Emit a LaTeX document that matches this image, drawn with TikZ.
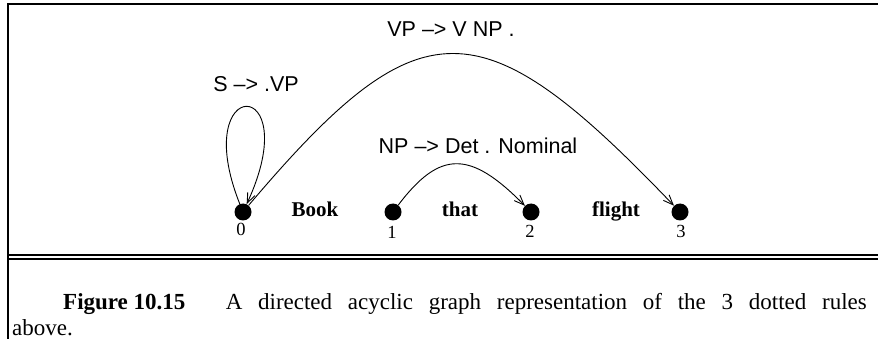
\documentclass[tikz,border=0pt]{standalone}
\usepackage{fontspec}
\setmainfont{Liberation Serif}
\newfontfamily\helv{Liberation Sans}
\usetikzlibrary{arrows.meta}
\begin{document}
\begin{tikzpicture}[x=1pt,y=-1pt,
  dot/.style={circle,fill=black,inner sep=0pt,minimum size=17pt},
  rulelabel/.style={font=\helv\fontsize{21.5}{25}\selectfont,anchor=base,inner sep=0pt},
  word/.style={font=\bfseries\fontsize{21}{25}\selectfont,anchor=base,inner sep=0pt},
  num/.style={font=\fontsize{18.5}{22}\selectfont,anchor=base,inner sep=0pt},
  captext/.style={font=\fontsize{23}{27}\selectfont,inner sep=0pt},
  edge/.style={line width=0.9pt,-{Straight Barb[length=10pt,width=8pt,line width=0.9pt]}},
  framerule/.style={line width=2pt}]
\useasboundingbox (0,0) rectangle (878,339);
% frame
\coordinate (fbl) at (8,339);
\coordinate (ftl) at (8,4);
\coordinate (ftr) at (878,4);
\draw[framerule] (fbl) -- (ftl) -- (ftr);
\coordinate (d1l) at (8,255);
\coordinate (d1r) at (878,255);
\coordinate (d2l) at (8,259);
\coordinate (d2r) at (878,259);
\draw[line width=1.3pt] (d1l) -- (d1r);
\draw[line width=1.3pt] (d2l) -- (d2r);
% nodes
\node[dot] (n0) at (243,212) {};
\node[dot] (n1) at (393,212) {};
\node[dot] (n2) at (531,212) {};
\node[dot] (n3) at (680,212) {};
\node[num] (l0) at (241,236) {0};
\node[num] (l1) at (392,238) {1};
\node[num] (l2) at (530,237) {2};
\node[num] (l3) at (681,237) {3};
\node[word] (wbook) at (315,217) {Book};
\node[word] (wthat) at (460,217) {that};
\node[word] (wflight) at (616,217) {flight};
% rule labels
\node[rulelabel] (rvp) at (451,37) {VP –> V NP .};
\node[rulelabel] (rs) at (256,92) {S –> .VP};
\node[rulelabel] (rnp) at (478,154) {NP –> Det . Nominal};
% edges
\draw[edge] (n0) .. controls (188,74) and (307,74) .. (n0);
\draw[edge] (n0) .. controls (420,3) and (480,3) .. (n3);
\draw[edge] (n1) .. controls (440,150) and (470,150) .. (n2);
% caption
\node[captext,anchor=base west] (cfig) at (63,309) {\textbf{Figure 10.15}};
\node[captext,anchor=base east] (ctext) at (867,309) {\makebox[641pt][s]{A directed acyclic graph representation of the 3 dotted rules}};
\node[captext,anchor=base west] (cabove) at (12,335) {above.};
\end{tikzpicture}
\end{document}
